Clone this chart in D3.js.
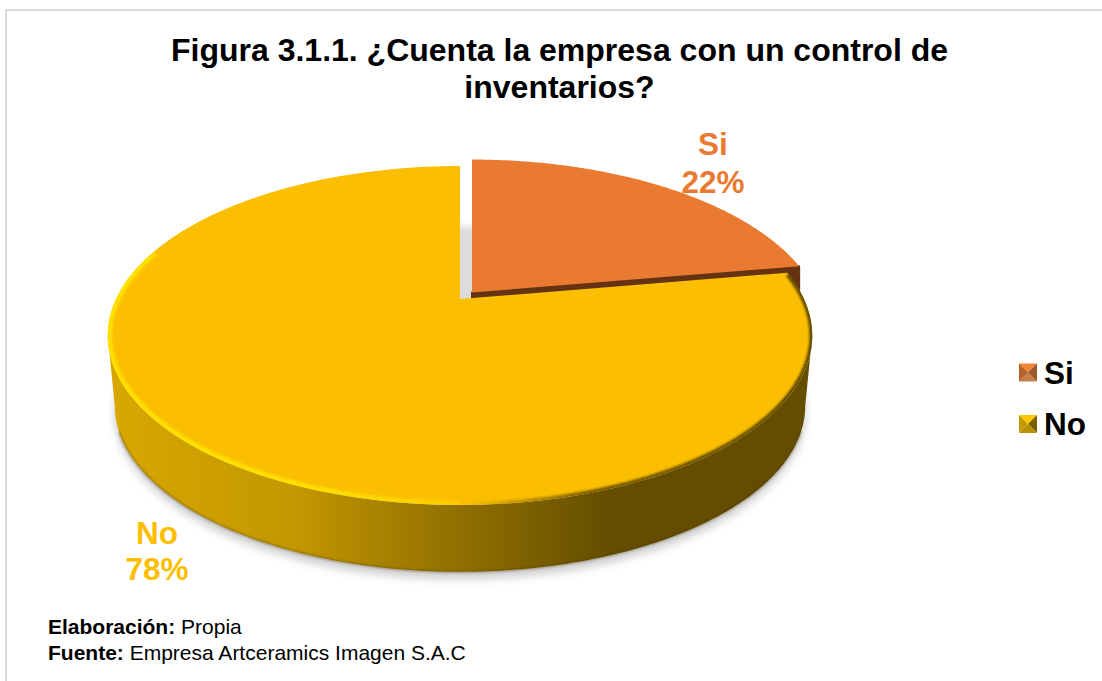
<!DOCTYPE html>
<html><head><meta charset="utf-8">
<script src="https://cdn.jsdelivr.net/npm/d3@7"></script>
<style>html,body{margin:0;padding:0;background:#fff}svg{display:block}text{font-family:"Liberation Sans",Arial,sans-serif}</style>
</head><body><svg id="c" width="1102" height="681"></svg>
<script>
const categories = ["Si", "No"];
const values = [22.3, 77.7];
const colors = ["#EA7A31", "#FBBE00"];
const sideColors = ["#653312", "#644D00"];
const titleLines = ["Figura 3.1.1. ¿Cuenta la empresa con un control de", "inventarios?"];
const sideStops = [[107,"#D8A800"],[300,"#C29600"],[400,"#A27D00"],[520,"#7F6200"],[610,"#644D00"],[811,"#644D00"]];

const svg = d3.select("#c");
const defs = svg.append("defs");
const blur = (id, s) => defs.append("filter").attr("id", id).attr("x","-20%").attr("y","-20%").attr("width","140%").attr("height","140%")
  .append("feGaussianBlur").attr("stdDeviation", s);
blur("b6", 5); blur("b3", 3); blur("b2", 2); blur("b1", 1);

svg.append("path").attr("d","M6,681V10H1102").attr("fill","none").attr("stroke","#d9d9d9").attr("stroke-width",2);

const X0=460, Y0=299, A=344, B=161.6, K=0.2154, DEPTH=71, SC=0.98;
const proj = (ang, r, base) => {
  const u=r*Math.sin(ang), v=r*Math.cos(ang), w=1+K*v, s=base?SC:1;
  return [X0+s*A*u/w, Y0+(base?DEPTH:0)-s*B*v/w];
};
const pie = d3.pie().sort(null).value(d=>d)(values);
const line = d3.line();
const arcPts = (a0,a1,base) => d3.range(0,161).map(i=>proj(a0+(a1-a0)*i/160,1,base));
const wedge = (a0,a1,base) => line([proj(0,0,base),...arcPts(a0,a1,base)])+"Z";
const full = base => line(arcPts(0,2*Math.PI,base))+"Z";
const offset = [[12,-6.5],[0,0]];

const sx = d3.scaleLinear().domain([107,811]).range([0,1]);
const grad = (id, stops) => {
  const g = defs.append("linearGradient").attr("id",id).attr("gradientUnits","userSpaceOnUse")
    .attr("x1",107).attr("x2",811).attr("y1",0).attr("y2",0);
  stops.forEach(s=>g.append("stop").attr("offset",sx(s[0])).attr("stop-color",s[1]).attr("stop-opacity",s[2]===undefined?1:s[2]));
};
grad("side", sideStops);
grad("rimLight", [[107,"#FFE000",1],[300,"#FFE000",1],[430,"#FFE000",.55],[500,"#FFE000",0]]);
grad("rimDark", [[470,"#5a4500",0],[590,"#5a4500",.8],[811,"#5a4500",.95]]);

svg.append("path").attr("d",full(true)).attr("transform","translate(0,7)").attr("fill","#000").attr("opacity",.2).attr("filter","url(#b6)");
const si=pie[0], no=pie[1];
svg.append("path").attr("d",wedge(si.startAngle,si.endAngle,false)).attr("transform","translate(-15,60)")
  .attr("fill","#dcdcdc").attr("filter","url(#b3)");

const siG=svg.append("g").attr("transform",`translate(${offset[0]})`);
const apex=proj(0,0,false), tip=proj(si.endAngle,1,false);
siG.append("path").attr("d",line([apex,tip,[tip[0],tip[1]+DEPTH],[apex[0],apex[1]+DEPTH]])+"Z")
  .attr("fill",sideColors[0]).attr("stroke",sideColors[0]).attr("stroke-width",2).attr("stroke-linejoin","round");
siG.append("path").attr("d",wedge(si.startAngle,si.endAngle,false)).attr("fill",colors[0]);

// No wall: from the right extreme of the disc, round the front, to the left extreme
const turn=Math.asin(K), a0=Math.PI/2+turn, a1=3*Math.PI/2-turn;
const noG=svg.append("g");
noG.append("path").attr("d",line([...arcPts(a0,a1,false),...arcPts(a1,a0,true)])+"Z").attr("fill","url(#side)");
noG.append("path").attr("d",line(arcPts(a0+.15,a1-.15,true))).attr("fill","none").attr("stroke","#4a3800").attr("stroke-opacity",.55).attr("stroke-width",1.5).attr("filter","url(#b1)");
noG.append("path").attr("d",wedge(no.startAngle,no.endAngle,false)).attr("fill",colors[1]);

defs.append("clipPath").attr("id","noClip").append("path").attr("d",wedge(no.startAngle,no.endAngle,false));
const rim=svg.append("g").attr("clip-path","url(#noClip)");
rim.append("path").attr("d",line(arcPts(si.endAngle+0.01,Math.PI*1.0,false))).attr("fill","none")
  .attr("stroke","url(#rimDark)").attr("stroke-width",6).attr("filter","url(#b1)");
rim.append("path").attr("d",line(arcPts(Math.PI*1.0,Math.PI*1.6,false))).attr("fill","none")
  .attr("stroke","url(#rimLight)").attr("stroke-width",9).attr("filter","url(#b1)");

svg.append("g").selectAll("text").data(titleLines).join("text")
  .attr("x",559.5).attr("y",(d,i)=>61+i*37).attr("text-anchor","middle")
  .attr("font-size",32).attr("font-weight","bold").attr("fill","#000").text(d=>d);

const labelPos=[[713,155,193],[157,544,580]];
pie.forEach((p,i)=>{
  [categories[i],Math.round(values[i])+"%"].forEach((t,j)=>svg.append("text")
    .attr("x",labelPos[i][0]).attr("y",labelPos[i][1+j]).attr("text-anchor","middle")
    .attr("font-size",31.5).attr("font-weight","bold").attr("fill",colors[i]).text(t));
});

const legY=[363.5,415];
const bevel=[["#EE8535","#B8622B","#9A5A2A","#C08048"],["#FFC800","#C49A00","#7A6000","#B89000"]];
categories.forEach((c,i)=>{
  const x=1019,y=legY[i],s=18,m=s/2;
  const tri=[[[0,0],[s,0],[m,m]],[[0,0],[0,s],[m,m]],[[s,0],[s,s],[m,m]],[[0,s],[s,s],[m,m]]];
  const lg=svg.append("g").attr("transform",`translate(${x},${y})`);
  tri.forEach((t,j)=>lg.append("path").attr("d",line(t)+"Z").attr("fill",bevel[i][j]));
  svg.append("text").attr("x",1044).attr("y",y+20).attr("font-size",31.5).attr("font-weight","bold").attr("fill","#000").text(c);
});

const notes=[["Elaboración:"," Propia",634],["Fuente:"," Empresa Artceramics Imagen S.A.C",660]];
notes.forEach(n=>{
  const t=svg.append("text").attr("x",48).attr("y",n[2]).attr("font-size",21).attr("fill","#000").attr("xml:space","preserve");
  t.append("tspan").attr("font-weight","bold").text(n[0]);
  t.append("tspan").text(n[1]);
});
</script></body></html>
